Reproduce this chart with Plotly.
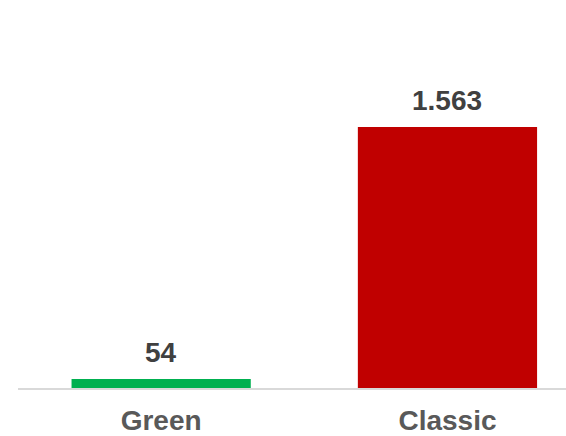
import plotly.graph_objects as go

categories = ["Green", "Classic"]
values = [54, 1563]
colors = ["#00B050", "#C00000"]

def fmt(v):
    return f"{v:,}".replace(",", ".")

fig = go.Figure()
fig.add_trace(go.Bar(
    x=categories, y=values,
    marker=dict(color=colors, line=dict(width=0)),
    hoverinfo="skip",
))

for c, v in zip(categories, values):
    fig.add_annotation(
        x=c, y=v, text="<b>" + fmt(v) + "</b>",
        showarrow=False, yanchor="bottom", yshift=9,
        font=dict(family="Liberation Sans, Arial, sans-serif", size=28, color="#404040"),
    )

fig.update_layout(
    width=566, height=436,
    margin=dict(l=18, r=0, t=0, b=48),
    paper_bgcolor="white", plot_bgcolor="white",
    bargap=0.374,
    showlegend=False,
    font=dict(family="Liberation Sans, Arial, sans-serif"),
    xaxis=dict(
        type="category",
        range=[-0.5, 1.414],
        showline=True, linecolor="#D9D9D9", linewidth=1.5,
        showgrid=False, zeroline=False,
        ticks="", ticklabelstandoff=7,
        tickfont=dict(size=28, color="#595959", family="Liberation Sans, Arial, sans-serif", weight="bold"),
    ),
    yaxis=dict(
        range=[0, 2323],
        visible=False, showgrid=False, zeroline=False,
    ),
)

fig.write_html("out.html")
